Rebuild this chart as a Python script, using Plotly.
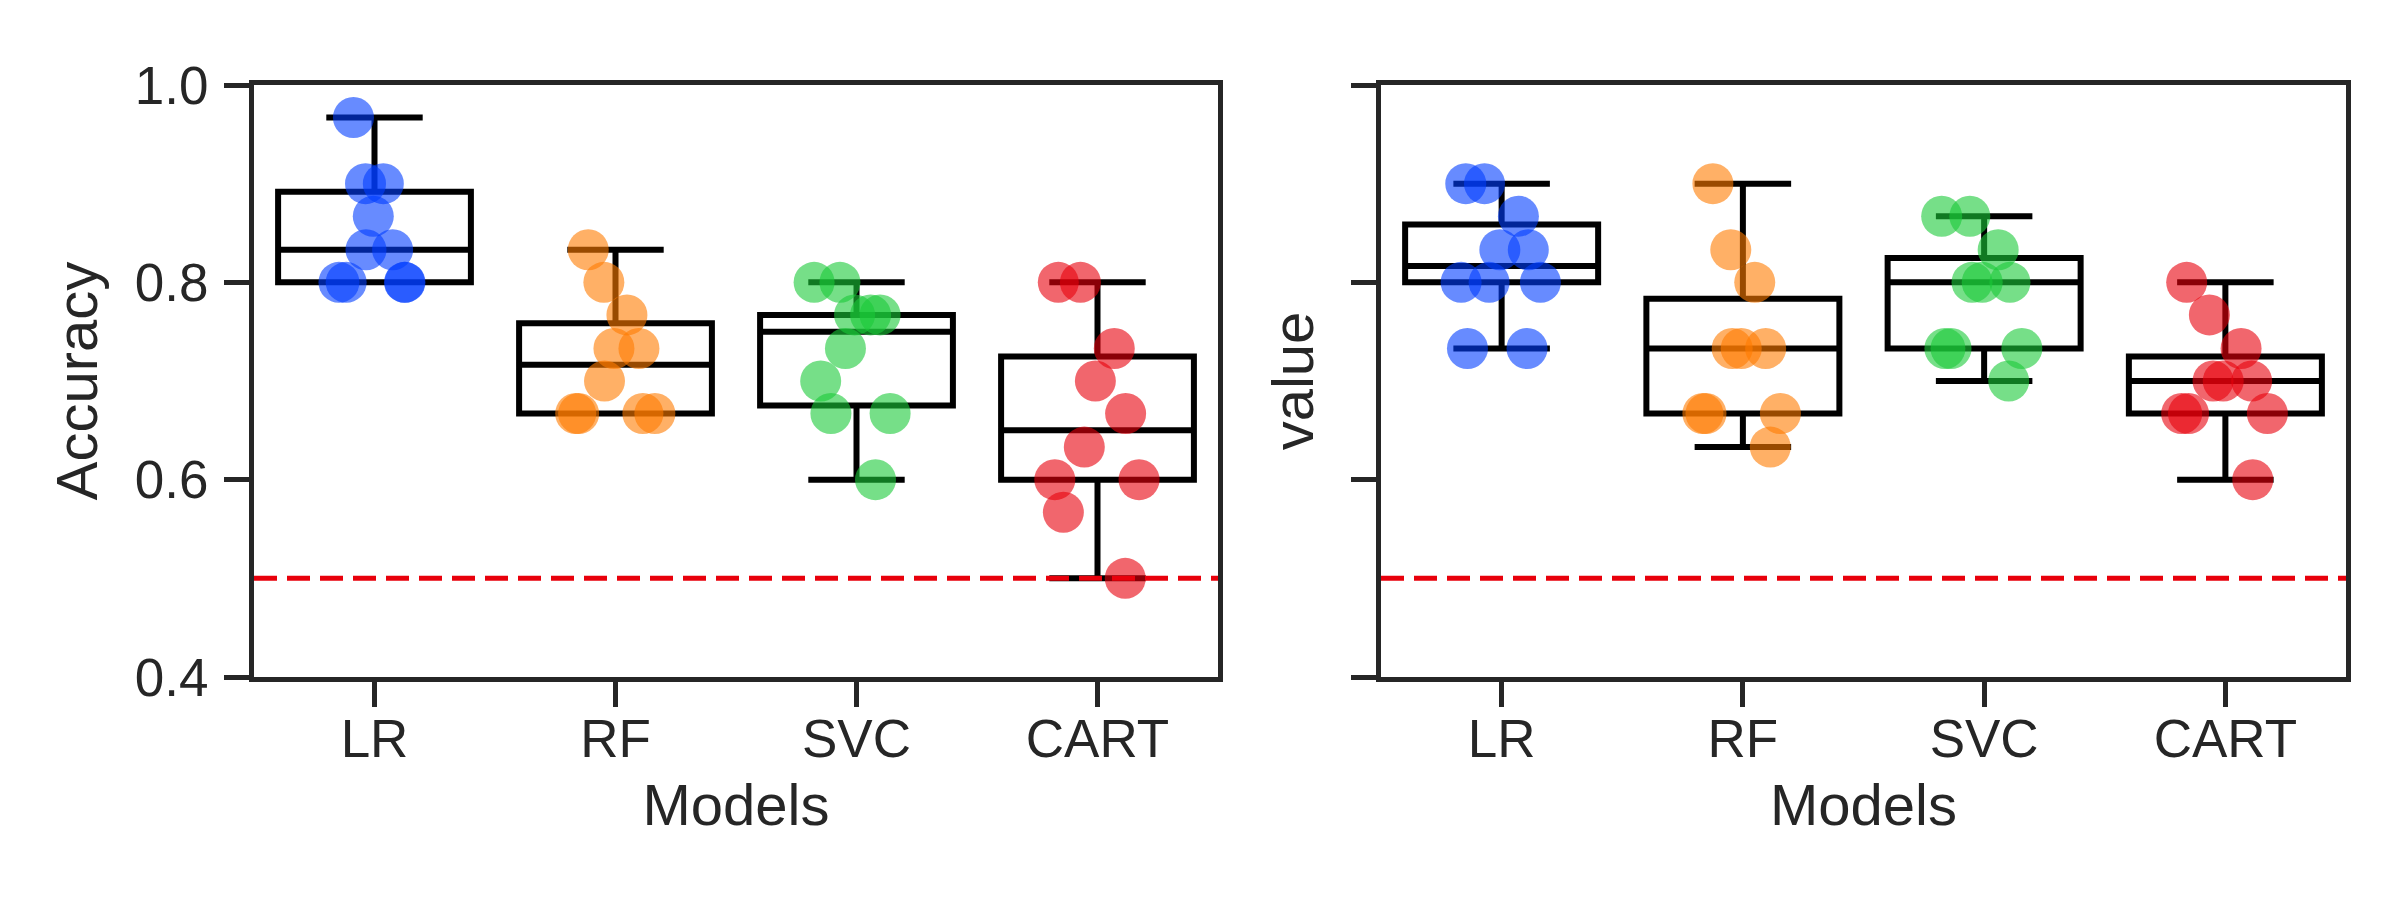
import numpy as np
import plotly.graph_objects as go

models = ["LR", "RF", "SVC", "CART"]

# Left panel: Accuracy per model (10 folds each)
acc_lr = [0.967, 0.9, 0.9, 0.867, 0.833, 0.833, 0.8, 0.8, 0.8, 0.8]
acc_rf = [0.833, 0.8, 0.767, 0.733, 0.733, 0.7, 0.667, 0.667, 0.667, 0.667]
acc_svc = [0.8, 0.8, 0.767, 0.767, 0.767, 0.733, 0.7, 0.667, 0.667, 0.6]
acc_cart = [0.8, 0.8, 0.733, 0.7, 0.667, 0.633, 0.6, 0.6, 0.567, 0.5]

# Right panel: value per model
val_lr = [0.9, 0.9, 0.867, 0.833, 0.833, 0.8, 0.8, 0.8, 0.733, 0.733]
val_rf = [0.9, 0.833, 0.8, 0.733, 0.733, 0.733, 0.667, 0.667, 0.667, 0.633]
val_svc = [0.867, 0.867, 0.833, 0.8, 0.8, 0.8, 0.733, 0.733, 0.733, 0.7]
val_cart = [0.8, 0.767, 0.733, 0.7, 0.7, 0.7, 0.667, 0.667, 0.667, 0.6]

chance_level = 0.5
y_ticks = [0.4, 0.6, 0.8, 1.0]
y_tick_labels = ["0.4", "0.6", "0.8", "1.0"]

colors = ["rgb(2,62,255)", "rgb(255,124,0)", "rgb(26,201,56)", "rgb(232,0,11)"]
INK = "#262626"
FONT = "Liberation Sans, Arial, sans-serif"

panels = [
    ("x", "y", [acc_lr, acc_rf, acc_svc, acc_cart]),
    ("x2", "y2", [val_lr, val_rf, val_svc, val_cart]),
]


def box_stats(vals):
    a = np.asarray(vals, dtype=float)
    q1, med, q3 = np.percentile(a, [25, 50, 75])
    iqr = q3 - q1
    lo = a[a >= q1 - 1.5 * iqr].min()
    hi = a[a <= q3 + 1.5 * iqr].max()
    return q1, med, q3, lo, hi


fig = go.Figure()

for xa, ya, groups in panels:
    # boxes (precomputed, matplotlib-style quartiles)
    for m, vals in zip(models, groups):
        q1, med, q3, lo, hi = box_stats(vals)
        fig.add_trace(go.Box(
            x=[m], q1=[q1], median=[med], q3=[q3],
            lowerfence=[lo], upperfence=[hi],
            xaxis=xa, yaxis=ya, width=0.8, whiskerwidth=0.5,
            line=dict(color="black", width=6), fillcolor="white",
            boxpoints=False, showlegend=False, hoverinfo="skip",
        ))
    # jittered points
    for m, vals, c in zip(models, groups, colors):
        fig.add_trace(go.Box(
            x=[m] * len(vals), y=vals, xaxis=xa, yaxis=ya,
            boxpoints="all", jitter=0.6, pointpos=0, width=0.8,
            line=dict(color="rgba(0,0,0,0)", width=0),
            fillcolor="rgba(0,0,0,0)",
            marker=dict(size=41, color=c, opacity=0.6, line=dict(width=0)),
            showlegend=False,
        ))

axis_common = dict(
    showline=True, linecolor=INK, linewidth=5, mirror=True,
    ticks="outside", ticklen=25, tickwidth=5, tickcolor=INK,
    showgrid=False, zeroline=False,
    tickfont=dict(family=FONT, size=53, color=INK),
)

# page body adds an 8px offset; figure sized to fit the window
W, H = 2392, 892
OFF = 8
L = 254 - OFF
T = 85 - OFF
R = W - (2346 - OFF)
B = H - (677 - OFF)
pw = W - L - R

xdom1 = [0, (1218 - OFF - L) / pw]
xdom2 = [(1381 - OFF - L) / pw, 1]

title_font = dict(family=FONT, size=58, color=INK)

fig.update_layout(
    width=W, height=H,
    margin=dict(l=L, r=R, t=T, b=B),
    paper_bgcolor="white", plot_bgcolor="white",
    boxmode="overlay",
    font=dict(family=FONT, color=INK),
    xaxis=dict(domain=xdom1, type="category", categoryorder="array",
               categoryarray=models, range=[-0.5, 3.5], anchor="y",
               title=dict(text="Models", font=title_font, standoff=19),
               ticklabelstandoff=-14, **axis_common),
    xaxis2=dict(domain=xdom2, type="category", categoryorder="array",
                categoryarray=models, range=[-0.5, 3.5], anchor="y2",
                title=dict(text="Models", font=title_font, standoff=19),
                ticklabelstandoff=-14, **axis_common),
    yaxis=dict(domain=[0, 1], range=[0.4, 1.0], tickvals=y_ticks, ticktext=y_tick_labels,
               anchor="x",
               title=dict(text="Accuracy", font=title_font, standoff=20),
               ticklabelstandoff=5, **axis_common),
    yaxis2=dict(domain=[0, 1], range=[0.4, 1.0], tickvals=y_ticks, ticktext=y_tick_labels,
                anchor="x2", matches="y", showticklabels=False,
                title=dict(text="value", font=title_font, standoff=20),
                **axis_common),
    shapes=[
        dict(type="line", xref="x domain", yref="y", x0=0, x1=1,
             y0=chance_level, y1=chance_level, layer="above",
             line=dict(color="#e8000b", width=5, dash="23px,10px")),
        dict(type="line", xref="x2 domain", yref="y2", x0=0, x1=1,
             y0=chance_level, y1=chance_level, layer="above",
             line=dict(color="#e8000b", width=5, dash="23px,10px")),
    ],
)

fig.write_html("out.html")
